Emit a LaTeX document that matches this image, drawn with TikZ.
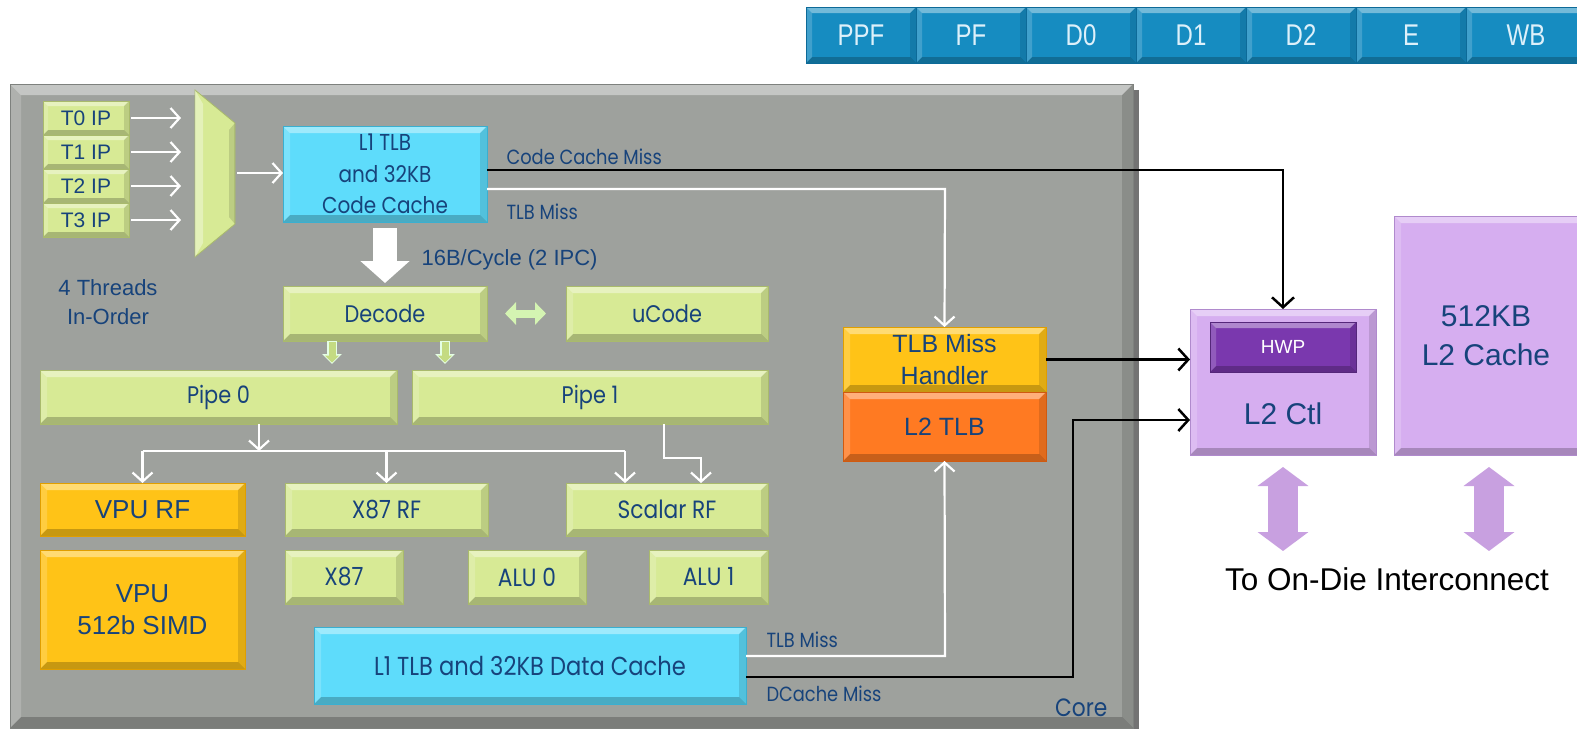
\documentclass[tikz,border=0pt]{standalone}
\usepackage{fontspec}
\setmainfont{Liberation Sans}
\newfontfamily\fut{Poppins}[FakeStretch=0.87]
\newfontfamily\ari{Liberation Sans}
\newfontfamily\arin{Liberation Sans}[FakeStretch=0.8]
\usetikzlibrary{arrows.meta,calc}
\definecolor{coregrey}{HTML}{9EA19D}
\definecolor{txtblue}{HTML}{17437B}
\definecolor{gfill}{HTML}{D7EA95}
\definecolor{gdraw}{HTML}{A9BA6C}
\definecolor{cfill}{HTML}{5EDCFB}
\definecolor{cdraw}{HTML}{3AAFD0}
\definecolor{yfill}{HTML}{FFC317}
\definecolor{ydraw}{HTML}{E09E00}
\definecolor{ofill}{HTML}{FF7A22}
\definecolor{odraw}{HTML}{D05A10}
\definecolor{pfill}{HTML}{D6AEF0}
\definecolor{pdraw}{HTML}{B08ACD}
\definecolor{hwpc}{HTML}{7A38AE}
\definecolor{lav}{HTML}{C8A0E0}
\definecolor{pipeblue}{HTML}{168CC1}
\definecolor{pipedraw}{HTML}{0D6A98}
\definecolor{pipetext}{HTML}{DDF0FA}
\definecolor{sgreen}{HTML}{C4DB82}
\tikzset{
 bev/.style={path picture={
  \coordinate (bnw) at (path picture bounding box.north west);
  \coordinate (bse) at (path picture bounding box.south east);
  \fill[white,opacity=.40] (bnw) -- (bnw -| bse) -- ([shift={(-#1,-#1)}]bnw -| bse) -- ([shift={(#1,-#1)}]bnw) -- cycle;
  \fill[black,opacity=.12] (bse) -- (bse |- bnw) -- ([shift={(-#1,-#1)}]bse |- bnw) -- ([shift={(-#1,#1)}]bse) -- cycle;
  \fill[black,opacity=.22] (bse) -- (bnw |- bse) -- ([shift={(#1,#1)}]bnw |- bse) -- ([shift={(-#1,#1)}]bse) -- cycle;
  \fill[white,opacity=.18] (bnw) -- (bnw |- bse) -- ([shift={(#1,#1)}]bnw |- bse) -- ([shift={(#1,-#1)}]bnw) -- cycle;
 }},
 bev/.default=7pt,
 sz/.style 2 args={minimum width=#1, minimum height=#2},
 blk/.style={anchor=north west, inner sep=0pt, outer sep=0pt, text=txtblue, align=center, line width=0.8pt},
 gbox/.style={blk, fill=gfill, draw=gdraw, bev},
 cbox/.style={blk, fill=cfill, draw=cdraw, bev},
 ybox/.style={blk, fill=yfill, draw=ydraw, bev},
 obox/.style={blk, fill=ofill, draw=odraw, bev},
 pbox/.style={blk, fill=pfill, draw=pdraw, bev},
 pipecell/.style={blk, fill=pipeblue, draw=pipedraw, bev=6pt, text=pipetext, font=\arin\fontsize{30}{32}\selectfont, sz={110}{56}},
 fmed/.style={font=\fut\fontsize{24}{31.5}\selectfont},
 frf/.style={font=\fut\fontsize{25}{30}\selectfont},
 fvpu/.style={font=\ari\fontsize{26}{32}\selectfont},
 fsmall/.style={font=\fut\fontsize{20.5}{22}\selectfont, text=txtblue},
 warr/.style={draw=white, line width=2.2pt, -{Straight Barb[length=9pt,width=20pt,line width=2.2pt]}},
 wline/.style={draw=white, line width=2.2pt},
 barr/.style={draw=black, line width=2.5pt, -{Straight Barb[length=10pt,width=22pt,line width=2.5pt]}},
 fatarr/.style={draw=white, line width=24pt, -{Triangle[length=22pt,width=48pt]}},
 sgout/.style={draw=white!90!green, line width=10pt, -{Triangle[length=10pt,width=19pt]}},
 sgarr/.style={draw=sgreen, line width=7pt, -{Triangle[length=7pt,width=14pt]}},
 gdbl/.style={draw=gfill!85!green!60!white, line width=8pt, {Triangle[length=11pt,width=22pt]}-{Triangle[length=11pt,width=22pt]}},
 lavarr/.style={draw=lav, line width=30pt, {Triangle[length=19pt,width=50pt]}-{Triangle[length=19pt,width=50pt]}},
}
\begin{document}
\begin{tikzpicture}[x=1pt,y=-1pt]
\path[use as bounding box, clip] (0,0) rectangle (1577,729);
\fill[white] (0,0) rectangle (1577,729);

% pipeline bar
\node[pipecell] (ppf) at (806,7) {PPF};
\node[pipecell] (pf)  at (916,7) {PF};
\node[pipecell] (d0)  at (1026,7) {D0};
\node[pipecell] (d1)  at (1136,7) {D1};
\node[pipecell] (d2)  at (1246,7) {D2};
\node[pipecell] (e)   at (1356,7) {E};
\node[pipecell, sz={120}{56}] (wb) at (1466,7) {WB};

% core
\fill[black,opacity=.55] (1133,90) rectangle (1139,729);
\node[blk, fill=coregrey, draw=coregrey!80!black, bev=11pt, sz={1123}{644}] (core) at (10,84) {};
\node[anchor=east, font=\fut\fontsize{25}{27}\selectfont, text=txtblue] (corelbl) at (1111,708) {Core};

% thread IPs
\node[gbox, bev=5pt, sz={86}{34}, font=\ari\fontsize{21}{24}\selectfont] (t0) at (43,101) {T0 IP};
\node[gbox, bev=5pt, sz={86}{34}, font=\ari\fontsize{21}{24}\selectfont] (t1) at (43,135) {T1 IP};
\node[gbox, bev=5pt, sz={86}{34}, font=\ari\fontsize{21}{24}\selectfont] (t2) at (43,169) {T2 IP};
\node[gbox, bev=5pt, sz={86}{34}, font=\ari\fontsize{21}{24}\selectfont] (t3) at (43,203) {T3 IP};

% mux
\filldraw[fill=gfill, draw=gdraw, line width=0.8pt] (195,90) -- (235,123) -- (235,224) -- (195,257) -- cycle;
\fill[white,opacity=.35] (195,90) -- (203,104) -- (203,243) -- (195,257) -- cycle;
\fill[black,opacity=.12] (235,123) -- (229,130) -- (229,217) -- (235,224) -- cycle;
\coordinate (muxin) at (181,173);
\coordinate (muxout) at (237,173);

\node[anchor=center, font=\ari\fontsize{22}{29}\selectfont, text=txtblue, align=center] (threads) at (108,302) {4 Threads\\In-Order};

% front end
\node[cbox, sz={204}{96}, font=\fut\fontsize{23}{31.5}\selectfont] (code) at (283,126) {L1 TLB\\and 32KB\\Code Cache};
\node[anchor=west, font=\ari\fontsize{22}{24}\selectfont, text=txtblue] (bw) at (418,260) {16B/Cycle (2 IPC)};
\node[gbox, sz={204}{55}, fmed] (decode) at (283,286) {Decode};
\node[gbox, sz={202}{55}, fmed] (ucode) at (566,286) {uCode};
\node[gbox, sz={357}{54}, fmed] (pipe0) at (40,370) {Pipe 0};
\node[gbox, sz={356}{54}, fmed] (pipe1) at (412,370) {Pipe 1};

% register files and units
\node[ybox, sz={205}{53}, fvpu] (vpurf) at (40,483) {VPU RF};
\node[gbox, sz={203}{53}, frf] (x87rf) at (285,483) {X87 RF};
\node[gbox, sz={202}{53}, frf] (scalarrf) at (566,483) {Scalar RF};
\node[ybox, sz={205}{119}, fvpu] (vpu) at (40,550) {VPU\\512b SIMD};
\node[gbox, sz={118}{54}, frf] (x87) at (285,550) {X87};
\node[gbox, sz={118}{54}, frf] (alu0) at (468,550) {ALU 0};
\node[gbox, sz={119}{54}, frf] (alu1) at (649,550) {ALU 1};
\node[cbox, sz={432}{77}, font=\fut\fontsize{26}{30}\selectfont] (dcache) at (314,627) {L1 TLB and 32KB Data Cache};

% TLB
\node[ybox, sz={203}{65}, font=\ari\fontsize{25}{32}\selectfont] (tlbmh) at (843,327) {TLB Miss\\Handler};
\node[obox, sz={203}{69}, font=\ari\fontsize{25}{28}\selectfont] (l2tlb) at (843,392) {L2 TLB};

% L2
\node[pbox, sz={186}{146}] (l2ctl) at (1190,309) {};
\node[blk, fill=hwpc, draw=hwpc!70!black, bev=6pt, sz={146}{50}, text=white, font=\ari\fontsize{19}{22}\selectfont] (hwp) at (1210,322) {HWP};
\node[anchor=center, font=\ari\fontsize{30}{34}\selectfont, text=txtblue] (l2ctltxt) at (1283,414) {L2 Ctl};
\node[pbox, sz={195}{239}] (l2cache) at (1394,216) {};
\node[anchor=center, align=center, font=\ari\fontsize{30}{39}\selectfont, text=txtblue] (l2cachetxt) at (1486,336) {512KB\\L2 Cache};
\node[anchor=center, font=\ari\fontsize{31.5}{34}\selectfont, text=black] (odi) at (1387,579) {To On-Die Interconnect};

% labels
\node[anchor=west, fsmall] (ccm) at (503,157) {Code Cache Miss};
\node[anchor=west, fsmall] (tlbm1) at (503,212) {TLB Miss};
\node[anchor=west, fsmall] (tlbm2) at (763,640) {TLB Miss};
\node[anchor=west, fsmall] (dcm) at (763,694) {DCache Miss};

% connectors: threads to mux
\draw[warr] ([xshift=2pt]t0.east) -- (t0.east -| muxin);
\draw[warr] ([xshift=2pt]t1.east) -- (t1.east -| muxin);
\draw[warr] ([xshift=2pt]t2.east) -- (t2.east -| muxin);
\draw[warr] ([xshift=2pt]t3.east) -- (t3.east -| muxin);
\draw[warr] (muxout) -- (code.west |- muxout);

% fetch
\draw[fatarr] ([yshift=-6pt]code.south) -- ([yshift=3pt]decode.north);
\draw[gdbl, shorten <=18pt, shorten >=20pt] (decode) -- (ucode);
\coordinate (ga1) at (332,344);
\coordinate (ga2) at (445,344);
\draw[sgout] (decode.south -| ga1) -- ([yshift=6pt]ga1 |- pipe0.north);
\draw[sgarr, shorten <=1pt] (decode.south -| ga1) -- ([yshift=7.5pt]ga1 |- pipe0.north);
\draw[sgout] (decode.south -| ga2) -- ([yshift=6pt]ga2 |- pipe1.north);
\draw[sgarr, shorten <=1pt] (decode.south -| ga2) -- ([yshift=7.5pt]ga2 |- pipe1.north);

% issue
\coordinate (split) at (259,451);
\coordinate (sl) at (625,451);
\coordinate (sp1) at (664,458);
\coordinate (sr) at (701,458);
\draw[warr] (split |- pipe0.south) -- (split);
\draw[wline] (vpurf.north |- split) -- (sl);
\draw[warr] (vpurf.north |- split) -- (vpurf.north);
\draw[warr] (x87rf.north |- split) -- (x87rf.north);
\draw[warr] (sl) -- (sl |- scalarrf.north);
\draw[warr] (sp1 |- pipe1.south) -- (sp1) -- (sr) -- (sr |- scalarrf.north);

% misses
\coordinate (cb) at (1283,170);
\draw[barr] (code.east |- cb) -- (cb) -- (l2ctl.north);
\coordinate (cw) at (945,189);
\draw[warr] (code.east |- cw) -- (cw) -- (tlbmh.north);
\draw[barr] (tlbmh.east) -- (tlbmh.east -| l2ctl.west);
\coordinate (dw) at (945,656);
\draw[warr] (dcache.east |- dw) -- (dw) -- (l2tlb.south);
\coordinate (db) at (1073,677);
\coordinate (l2b) at (1073,420);
\draw[barr] (dcache.east |- db) -- (db) -- (l2b) -- (l2b -| l2ctl.west);

% interconnect arrows
\coordinate (ia1) at (1283,551);
\coordinate (ia2) at (1489,551);
\draw[lavarr] ($(l2ctl.south)+(0,12)$) -- (ia1);
\draw[lavarr] ($(l2cache.south -| ia2)+(0,12)$) -- (ia2);
\end{tikzpicture}
\end{document}
